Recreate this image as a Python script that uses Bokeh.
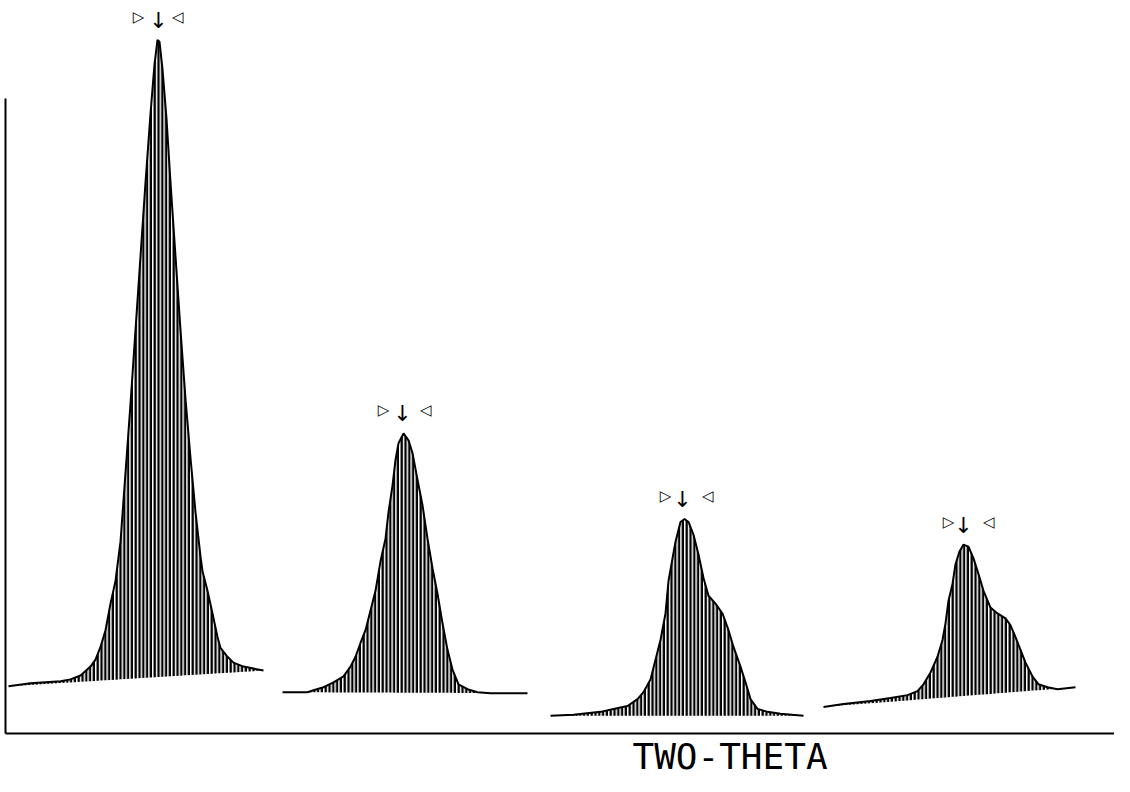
import numpy as np
from bokeh.plotting import figure
from bokeh.models import Range1d, FixedTicker, Title
from bokeh.embed import file_html
from bokeh.resources import INLINE
from bokeh.core.properties import value

# ---- data: four diffraction peaks (x = scan position, h = counts, arbitrary units) ----
p1_x = [8, 30, 60, 70, 80, 90, 95, 100, 105, 110, 115, 120, 125, 130, 135, 140, 145, 150, 154, 157,
        159, 162, 166, 170, 175, 180, 185, 190, 195, 200, 202, 207, 212, 217, 220, 227, 233, 243, 253, 263]
p1_h = [48, 51, 53, 55, 59, 68, 75, 88, 105, 132, 155, 195, 265, 335, 410, 485, 560, 630, 680, 705,
        703, 675, 625, 560, 485, 410, 340, 280, 225, 180, 165, 145, 122, 98, 87, 78, 72, 68, 66, 64]

p2_x = [282, 307, 313, 323, 333, 343, 350, 355, 360, 365, 370, 375, 380, 385, 388, 392, 395, 398, 403,
        408, 412, 417, 422, 427, 432, 437, 442, 447, 452, 458, 467, 477, 490, 527]
p2_h = [42, 42, 44, 47, 52, 58, 68, 78, 92, 105, 125, 145, 175, 198, 225, 252, 278, 295, 305,
        298, 285, 258, 232, 198, 168, 142, 112, 85, 65, 50, 45, 42, 41, 41]

p3_x = [550, 573, 600, 613, 627, 637, 643, 650, 655, 660, 665, 668, 672, 675, 680, 684,
        688, 693, 698, 703, 708, 715, 722, 728, 733, 740, 745, 750, 757, 767, 780, 803]
p3_h = [18, 19, 22, 25, 28, 35, 42, 55, 75, 95, 122, 155, 178, 195, 215, 218,
        215, 202, 182, 158, 140, 132, 122, 105, 88, 68, 52, 35, 25, 22, 20, 18]

p4_x = [823, 843, 870, 890, 907, 917, 923, 930, 937, 942, 945, 948, 952, 955, 959, 963,
        968, 973, 978, 983, 990, 997, 1005, 1010, 1015, 1020, 1025, 1032, 1038, 1047, 1057, 1075]
p4_h = [27, 30, 33, 36, 39, 43, 50, 62, 78, 95, 112, 135, 152, 172, 185, 192,
        190, 178, 162, 145, 128, 122, 117, 110, 98, 85, 72, 58, 50, 47, 45, 47]

# background level at the start and end of each scan
bg_start = [48, 42, 18, 27]
bg_end = [64, 41, 18, 47]

# peak markers: peak position, peak height, integration window limits
peak_x = [158, 402, 682, 963]
peak_h = [705, 305, 218, 192]
win_lo = [138, 383, 665, 948]
win_hi = [177, 425, 707, 988]

axis_title = "TWO-THETA"

# ---- figure ----
p = figure(width=1114, height=776, output_backend="svg", toolbar_location=None,
           x_range=Range1d(5, 1114), y_range=Range1d(0, 745),
           min_border_left=5, min_border_right=0, min_border_top=0, min_border_bottom=0)
p.outline_line_color = None
p.grid.visible = False
p.background_fill_color = "white"
p.border_fill_color = "white"

for ax in (p.xaxis[0], p.yaxis[0]):
    ax.ticker = FixedTicker(ticks=[])
    ax.major_tick_line_color = None
    ax.minor_tick_line_color = None
    ax.major_tick_out = 0
    ax.minor_tick_out = 0
    ax.major_label_standoff = 0
    ax.major_label_text_font_size = "0px"
    ax.axis_line_color = "black"
    ax.axis_line_width = 2
p.yaxis[0].bounds = (0, 645)

p.add_layout(Title(text=axis_title, align="left", offset=627, standoff=0,
                   text_font="DejaVu Sans Mono", text_font_size="36px",
                   text_font_style="normal", text_color="black"), "below")

peaks = [(p1_x, p1_h), (p2_x, p2_h), (p3_x, p3_h), (p4_x, p4_h)]
for (xs, hs), b0, b1 in zip(peaks, bg_start, bg_end):
    xs = np.array(xs, dtype=float)
    hs = np.array(hs, dtype=float)
    bg = b0 + (b1 - b0) * (xs - xs[0]) / (xs[-1] - xs[0])
    p.varea(x=xs, y1=bg, y2=hs, fill_alpha=0, hatch_pattern="vertical_line",
            hatch_color="black", hatch_weight=2.8, hatch_scale=3.8)
    p.line(xs, hs, line_color="black", line_width=2)

p.text(x=peak_x, y=peak_h, text=["↓"] * 4, text_align="center", text_baseline="bottom",
       y_offset=-7, text_font=value("DejaVu Sans"), text_font_size="22px", text_color="black")
p.text(x=win_lo, y=peak_h, text=["▷"] * 4, text_align="center", text_baseline="middle",
       y_offset=-23, text_font=value("DejaVu Sans"), text_font_size="15px", text_color="black")
p.text(x=win_hi, y=peak_h, text=["◁"] * 4, text_align="center", text_baseline="middle",
       y_offset=-23, text_font=value("DejaVu Sans"), text_font_size="15px", text_color="black")

open("out.html", "w").write(file_html(p, INLINE))
